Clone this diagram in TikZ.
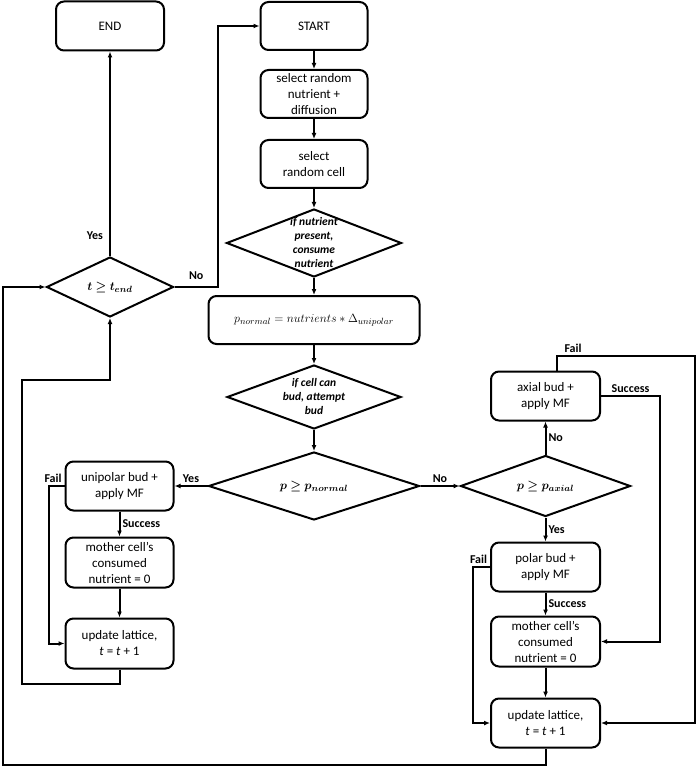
\documentclass[tikz,border=0pt]{standalone}
\usepackage{amsmath, amssymb}
\usepackage{fontspec}
\setmainfont{Carlito}
\usepackage{bm}
\usetikzlibrary{shapes.geometric, arrows.meta, positioning}

\begin{document}
\begin{tikzpicture}[
    x=1pt, y=1pt,
    proc/.style={rectangle, rounded corners=8pt, draw, line width=2pt, minimum width=107pt, minimum height=48pt, inner sep=1pt, align=center, font=\fontsize{13}{16}\selectfont},
    decision/.style={diamond, draw, line width=2pt, inner sep=0pt},
    dtext/.style={align=center, font=\fontsize{11.5}{14}\selectfont\bfseries\itshape},
    mtext/.style={font=\fontsize{13}{16}\selectfont},
    arrow/.style={-{Latex[length=6pt, width=5pt]}, line width=2pt},
    lbl/.style={font=\fontsize{12}{14}\selectfont\bfseries, inner sep=2pt},
    node distance=20pt
]
    \useasboundingbox (0,0) rectangle (697,-767);

    % Main column
    \node[proc] (start) at (314,-26) {START};
    \node[proc, below=18pt of start] (nutr) {select random\\nutrient +\\diffusion};
    \node[proc, below=20pt of nutr] (cell) {select\\random cell};
    \node[decision, minimum width=175pt, minimum height=68pt, below=19pt of cell,
          label={[dtext]center:{if nutrient\\present,\\consume\\nutrient}}] (consume) {};
    \node[proc, minimum width=211pt, below=17pt of consume] (pnorm) {$p_{normal} = nutrients \ast \Delta_{unipolar}$};
    \node[decision, minimum width=174pt, minimum height=64pt, below=19pt of pnorm,
          label={[dtext]center:{if cell can\\bud, attempt\\bud}}] (canbud) {};
    \node[decision, minimum width=211pt, minimum height=68pt, below=21pt of canbud,
          label={[mtext]center:{$\bm{p \geq p_{normal}}$}}] (pcheck) {};

    % Left branch
    \node[proc, minimum width=108pt, minimum height=49pt, left=33pt of pcheck] (unipolar) {unipolar bud +\\apply MF};
    \node[proc, minimum width=108pt, minimum height=50pt, below=25pt of unipolar] (mother1) {mother cell’s\\consumed\\nutrient = 0};
    \node[proc, minimum width=108pt, minimum height=50pt, below=29pt of mother1] (update1) {update lattice,\\\textit{t} = \textit{t} + 1};

    % Right branch
    \node[decision, minimum width=170pt, minimum height=61pt, right=39pt of pcheck,
          label={[mtext]center:{$\bm{p \geq p_{axial}}$}}] (paxial) {};
    \node[proc, minimum width=109pt, minimum height=49pt, above=33pt of paxial] (axial) {axial bud +\\apply MF};
    \node[proc, minimum width=109pt, minimum height=49pt, below=24pt of paxial] (polar) {polar bud +\\apply MF};
    \node[proc, minimum width=109pt, minimum height=50pt, below=23pt of polar] (mother2) {mother cell’s\\consumed\\nutrient = 0};
    \node[proc, minimum width=109pt, minimum height=49pt, below=30pt of mother2] (update2) {update lattice,\\\textit{t} = \textit{t} + 1};

    % Time check
    \node[decision, minimum width=127pt, minimum height=60pt,
          label={[mtext]center:{$\bm{t \geq t_{end}}$}}] (tend) at (110,-287) {};
    \node[proc, minimum width=108pt, minimum height=49pt] (end) at (110,-26) {END};

    % Turning points
    \coordinate (noX) at (218,0);
    \coordinate (failR) at (695,-356);
    \coordinate (succR) at (660,0);
    \coordinate (loopL) at (22,-684);
    \coordinate (loopT) at (22,-380);
    \coordinate (outerL) at (3,-765);

    % Main flow
    \draw[arrow] (start) -- (nutr);
    \draw[arrow] (nutr) -- (cell);
    \draw[arrow] (cell) -- (consume);
    \draw[arrow] (consume) -- (pnorm);
    \draw[arrow] (pnorm) -- (canbud);
    \draw[arrow] (canbud) -- (pcheck);
    \draw[arrow] (pcheck.west) -- node[lbl, above] {Yes} (unipolar.east);
    \draw[arrow] (pcheck.east) -- node[lbl, above] {No} (paxial.west);

    % Unipolar budding
    \draw[arrow] (unipolar) -- node[lbl, right] {Success} (mother1);
    \draw[arrow] (mother1) -- (update1);
    \draw[arrow] (unipolar.west) node[lbl, above left] {Fail} -- ++(-16,0) |- (update1.west);

    % Axial / polar budding
    \draw[arrow] (paxial.north) -- node[lbl, right] {No} (axial.south);
    \draw[arrow] (paxial.south) -- node[lbl, right] {Yes} (polar.north);
    \draw[arrow] (polar) -- node[lbl, right] {Success} (mother2);
    \draw[arrow] (mother2) -- (update2);
    \draw[arrow] (polar.west) node[lbl, above left] {Fail} -- ++(-17,0) |- (update2.west);
    \draw[arrow] ([xshift=11pt]axial.north) |- node[lbl, above right, xshift=5pt] {Fail} (failR) |- (update2.east);
    \draw[arrow] (axial.east) -- node[lbl, above] {Success} (axial.east -| succR) |- (mother2.east);

    % Loops back to the time check
    \draw[arrow] (update1.south) |- (loopL) -- (loopT) -| (tend.south);
    \draw[arrow] (update2.south) |- (outerL) |- (tend.west);
    \draw[arrow] (tend.north) -- node[lbl, left=4pt, pos=0.1] {Yes} (end.south);
    \draw[arrow] (tend.east) -- node[lbl, above, yshift=4pt] {No} (tend.east -| noX) |- (start.west);

\end{tikzpicture}
\end{document}
